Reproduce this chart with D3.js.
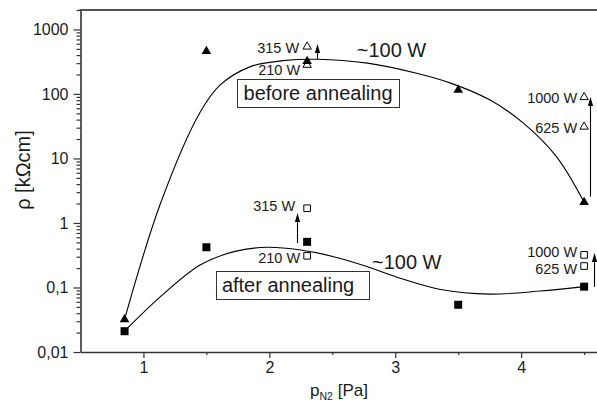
<!DOCTYPE html>
<html>
<head>
<meta charset="utf-8">
<script src="https://cdn.jsdelivr.net/npm/d3@7/dist/d3.min.js"></script>
<style>
  html, body { margin: 0; padding: 0; background: #fff; }
  svg { display: block; font-family: "Liberation Sans", Arial, sans-serif; }
</style>
</head>
<body>
<svg id="chart" width="597" height="406"></svg>
<script>
// Nitrogen partial pressure p_N2 [Pa] and resistivity rho [kOhm cm]
const pressure = [0.85, 1.5, 2.3, 3.5, 4.5];
const rhoBefore = [0.032, 460, 320, 115, 2.1];
const rhoAfter = [0.021, 0.42, 0.51, 0.054, 0.103];

// Samples sputtered at other powers (open markers)
const powerLabels = ["315 W", "210 W", "1000 W", "625 W"];
const powerPressure = [2.3, 2.3, 4.5, 4.5];
const powerRhoBefore = [540, 282, 89, 31];
const powerRhoAfter = [1.69, 0.31, 0.32, 0.215];

// Guide curves through the ~100 W series
const curveBeforeP = [0.85, 1.135, 1.45, 1.61, 1.85, 2.11, 2.38, 2.78, 3.17, 3.44, 3.75, 4.02, 4.28, 4.5];
const curveBeforeRho = [0.032, 2.0, 52, 138, 265, 328, 345, 300, 209, 147, 81, 35, 10.7, 2.1];
const curveAfterP = [0.85, 1.135, 1.45, 1.72, 1.98, 2.25, 2.51, 2.78, 3.04, 3.36, 3.75, 4.15, 4.5];
const curveAfterRho = [0.021, 0.072, 0.223, 0.36, 0.42, 0.38, 0.30, 0.21, 0.139, 0.093, 0.079, 0.088, 0.103];

// Arrows: pressure, start rho, end rho
const arrowP = [2.38, 4.545, 2.22, 4.578];
const arrowFrom = [350, 2.56, 0.49, 0.102];
const arrowTo = [596, 90, 1.43, 0.343];

// Axes
const xMajorTicks = [1, 2, 3, 4];
const xMinorTicks = [1.5, 2.5, 3.5, 4.5];
const yMajorTicks = [0.01, 0.1, 1, 10, 100, 1000];
const yTickLabels = ["0,01", "0,1", "1", "10", "100", "1000"];

const svg = d3.select("#chart");
const plotLeft = 80.5, plotRight = 596.7, plotTop = 10, plotBottom = 352;

const x = d3.scaleLinear().domain([0.5, 4.6]).range([plotLeft, plotRight]);
const y = d3.scaleLog().domain([0.01, 2000]).range([plotBottom, plotTop]);

const ink = "#1a1a1a";
const axisColor = "#333";

// Minor ticks on the log axis: 2..9 within each decade
const yMinorTicks = [];
yMajorTicks.forEach(d => {
  for (let k = 2; k <= 9; k++) {
    const v = d * k;
    if (v <= 2000) yMinorTicks.push(v);
  }
});

// Top frame line
svg.append("line")
  .attr("x1", plotLeft - 1).attr("x2", 597)
  .attr("y1", plotTop).attr("y2", plotTop)
  .attr("stroke", "#555").attr("stroke-width", 2);

// Y axis
const yAxisMinor = svg.append("g").attr("transform", `translate(${plotLeft},0)`)
  .call(d3.axisLeft(y).tickValues(yMinorTicks).tickFormat("").tickSizeInner(4).tickSizeOuter(0));
yAxisMinor.select(".domain").remove();

const yAxis = svg.append("g").attr("transform", `translate(${plotLeft},0)`)
  .call(d3.axisLeft(y).tickValues(yMajorTicks)
    .tickFormat((d, i) => yTickLabels[i]).tickSizeInner(7).tickSizeOuter(0).tickPadding(5));

// X axis
const xAxisMinor = svg.append("g").attr("transform", `translate(0,${plotBottom})`)
  .call(d3.axisBottom(x).tickValues(xMinorTicks).tickFormat("").tickSizeInner(3).tickSizeOuter(0));
xAxisMinor.select(".domain").remove();

const xAxis = svg.append("g").attr("transform", `translate(0,${plotBottom})`)
  .call(d3.axisBottom(x).tickValues(xMajorTicks).tickFormat(d3.format("d"))
    .tickSizeInner(6).tickSizeOuter(0).tickPadding(4));

svg.selectAll(".domain").attr("stroke", axisColor).attr("stroke-width", 1.6);
svg.selectAll(".tick line").attr("stroke", axisColor).attr("stroke-width", 1.2);
svg.selectAll(".tick text").attr("fill", ink).attr("font-size", 16)
  .attr("font-family", "'Liberation Sans', Arial, sans-serif");

// Axis titles
svg.append("text")
  .attr("transform", "translate(30,170) rotate(-90)")
  .attr("text-anchor", "middle")
  .attr("fill", ink).attr("font-size", 20)
  .text("ρ [kΩcm]");

const xTitle = svg.append("text")
  .attr("x", 339).attr("y", 396)
  .attr("text-anchor", "middle")
  .attr("fill", ink).attr("font-size", 17);
xTitle.append("tspan").text("p");
xTitle.append("tspan").attr("font-size", 10.5).attr("dy", 4).text("N2");
xTitle.append("tspan").attr("dy", -4).text(" [Pa]");

// Guide curves
const line = d3.line().curve(d3.curveCatmullRom.alpha(0.5))
  .x(d => x(d[0])).y(d => y(d[1]));

svg.append("path")
  .datum(d3.zip(curveBeforeP, curveBeforeRho))
  .attr("d", line).attr("fill", "none").attr("stroke", "#000").attr("stroke-width", 1.1);
svg.append("path")
  .datum(d3.zip(curveAfterP, curveAfterRho))
  .attr("d", line).attr("fill", "none").attr("stroke", "#000").attr("stroke-width", 1.1);

// Arrows
arrowP.forEach((p, i) => {
  const ax = Math.round(x(p)) + 0.5;
  const y0 = y(arrowFrom[i]);
  const y1 = y(arrowTo[i]);
  const head = 9, half = 2.6;
  svg.append("line")
    .attr("x1", ax).attr("x2", ax)
    .attr("y1", y0).attr("y2", y1 + head - 1)
    .attr("stroke", "#000").attr("stroke-width", 1.1);
  svg.append("path")
    .attr("d", `M${ax},${y1}L${ax - half},${y1 + head}L${ax + half},${y1 + head}Z`)
    .attr("fill", "#000");
});

// Markers
const tri = (size) => d3.symbol().type(d3.symbolTriangle).size(size)();
const sq = (size) => d3.symbol().type(d3.symbolSquare).size(size)();

// Open markers for the other sputtering powers
powerPressure.forEach((p, i) => {
  svg.append("path")
    .attr("d", tri(30))
    .attr("transform", `translate(${x(p)},${y(powerRhoBefore[i])})`)
    .attr("fill", "#fff").attr("stroke", "#000").attr("stroke-width", 1);
  svg.append("path")
    .attr("d", sq(44))
    .attr("transform", `translate(${x(p)},${y(powerRhoAfter[i])})`)
    .attr("fill", "#fff").attr("stroke", "#000").attr("stroke-width", 1);
});

// Filled markers for the ~100 W series
pressure.forEach((p, i) => {
  svg.append("path")
    .attr("d", tri(40))
    .attr("transform", `translate(${x(p)},${y(rhoBefore[i])})`)
    .attr("fill", "#000");
  svg.append("path")
    .attr("d", sq(64))
    .attr("transform", `translate(${x(p)},${y(rhoAfter[i])})`)
    .attr("fill", "#000");
});

// Power labels next to open markers (dx, dy offsets from the marker)
const beforeLabelOffsets = [[-8, 6], [-7, 10], [-7, 6], [-7, 6]];
const afterLabelOffsets = [[-12, 3], [-7, 7], [-7, 2.5], [-7, 7.5]];
powerLabels.forEach((lab, i) => {
  svg.append("text")
    .attr("x", x(powerPressure[i]) + beforeLabelOffsets[i][0])
    .attr("y", y(powerRhoBefore[i]) + beforeLabelOffsets[i][1])
    .attr("text-anchor", "end").attr("fill", ink).attr("font-size", 14.5)
    .text(lab);
  svg.append("text")
    .attr("x", x(powerPressure[i]) + afterLabelOffsets[i][0])
    .attr("y", y(powerRhoAfter[i]) + afterLabelOffsets[i][1])
    .attr("text-anchor", "end").attr("fill", ink).attr("font-size", 14.5)
    .text(lab);
});

// "~100 W" series annotations
svg.append("text").attr("x", x(2.694)).attr("y", y(375))
  .attr("fill", ink).attr("font-size", 20).text("~100 W");
svg.append("text").attr("x", x(2.815)).attr("y", y(0.194))
  .attr("fill", ink).attr("font-size", 20).text("~100 W");

// Boxed state labels (padding: left, right)
function boxedLabel(p, rho, txt, padL, padR) {
  const g = svg.append("g");
  const t = g.append("text").attr("x", x(p)).attr("y", y(rho))
    .attr("fill", ink).attr("font-size", 20).text(txt);
  const b = t.node().getBBox();
  g.insert("rect", "text")
    .attr("x", Math.round(b.x - padL) + 0.5).attr("y", Math.round(b.y - 3) + 0.5)
    .attr("width", Math.round(b.width + padL + padR)).attr("height", Math.round(b.height + 6))
    .attr("fill", "#fff").attr("stroke", axisColor).attr("stroke-width", 1);
}
boxedLabel(1.795, 80.7, "before annealing", 6.5, 6.5);
boxedLabel(1.623, 0.086, "after annealing", 6, 15);
</script>
</body>
</html>
